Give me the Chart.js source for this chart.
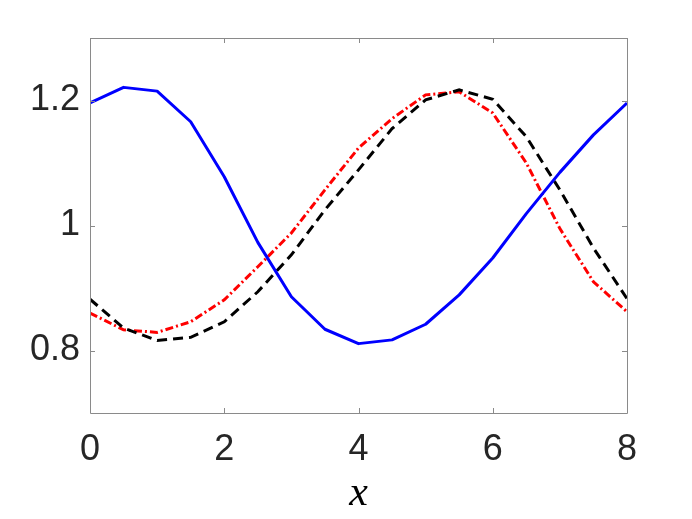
<!DOCTYPE html>
<html>
<head>
<meta charset="utf-8">
<script src="https://cdn.jsdelivr.net/npm/chart.js@4.4.1/dist/chart.umd.min.js"></script>
<style>
html,body{margin:0;padding:0;background:#fff;}
#c{display:block;}
</style>
</head>
<body>
<canvas id="c" width="692" height="519"></canvas>
<script>
const xValues = [0,0.5,1,1.5,2,2.5,3,3.5,4,4.5,5,5.5,6,6.5,7,7.5,8];
const blueSeries  = [1.196,1.221,1.215,1.166,1.078,0.973,0.886,0.834,0.811,0.817,0.842,0.889,0.948,1.019,1.085,1.145,1.196];
const blackSeries = [0.882,0.836,0.816,0.821,0.846,0.894,0.953,1.025,1.089,1.155,1.201,1.217,1.202,1.142,1.057,0.964,0.883];
const redSeries   = [0.860,0.833,0.829,0.846,0.881,0.934,0.988,1.057,1.124,1.171,1.209,1.214,1.180,1.100,0.995,0.910,0.862];
const xTicks = [0,2,4,6,8];
const yTicks = [0.8,1,1.2];
const xLabel = 'x';

const pts = arr => arr.map((v,i)=>({x:xValues[i], y:v}));
const AXIS = '#8a8a8a';
const TXT = '#262626';

const boxPlugin = {
  id:'boxPlugin',
  afterDraw(chart){
    const {ctx, chartArea:a, scales:{x, y}} = chart;
    ctx.save();
    ctx.strokeStyle = AXIS;
    ctx.lineWidth = 1;
    ctx.beginPath();
    ctx.rect(Math.round(a.left)+0.5, Math.round(a.top)+0.5, Math.round(a.right-a.left), Math.round(a.bottom-a.top));
    ctx.stroke();
    const L = 5;
    ctx.beginPath();
    xTicks.forEach(v=>{
      const px = Math.round(x.getPixelForValue(v))+0.5;
      ctx.moveTo(px, a.bottom); ctx.lineTo(px, a.bottom-L);
      ctx.moveTo(px, a.top); ctx.lineTo(px, a.top+L);
    });
    yTicks.forEach(v=>{
      const py = Math.round(y.getPixelForValue(v))+0.5;
      ctx.moveTo(a.left, py); ctx.lineTo(a.left+L, py);
      ctx.moveTo(a.right, py); ctx.lineTo(a.right-L, py);
    });
    ctx.stroke();
    ctx.fillStyle = '#000';
    ctx.font = 'italic 42px "Liberation Serif", "DejaVu Serif", serif';
    ctx.textAlign = 'center';
    ctx.textBaseline = 'alphabetic';
    ctx.fillText(xLabel, (a.left+a.right)/2, 505);
    ctx.restore();
  }
};

new Chart(document.getElementById('c'), {
  type:'line',
  data:{
    datasets:[
      {data:pts(blueSeries), borderColor:'#0000ff', borderWidth:3, pointRadius:0, fill:false, tension:0, borderJoinStyle:'round'},
      {data:pts(blackSeries), borderColor:'#000000', borderWidth:3, borderDash:[10,6], pointRadius:0, fill:false, tension:0},
      {data:pts(redSeries), borderColor:'#ff0000', borderWidth:3, borderDash:[8,3,2,3], pointRadius:0, fill:false, tension:0}
    ]
  },
  options:{
    responsive:false,
    animation:false,
    devicePixelRatio:1,
    layout:{padding:{left:0, top:38, right:65, bottom:0}},
    plugins:{legend:{display:false}, tooltip:{enabled:false}},
    scales:{
      x:{
        type:'linear', min:0, max:8,
        afterBuildTicks: s => { s.ticks = xTicks.map(v=>({value:v})); },
        afterFit: s => { s.height = 106; },
        grid:{display:false, drawTicks:false},
        border:{display:false},
        ticks:{color:TXT, font:{family:'"Liberation Sans", Arial, sans-serif', size:36}, padding:15, maxRotation:0, callback:v=>String(v)}
      },
      y:{
        type:'linear', min:0.7, max:1.3,
        afterBuildTicks: s => { s.ticks = yTicks.map(v=>({value:v})); },
        afterFit: s => { s.width = 90; },
        grid:{display:false, drawTicks:false},
        border:{display:false},
        ticks:{color:TXT, font:{family:'"Liberation Sans", Arial, sans-serif', size:36}, padding:10, callback:v=>String(v)}
      }
    }
  },
  plugins:[boxPlugin]
});
</script>
</body>
</html>
